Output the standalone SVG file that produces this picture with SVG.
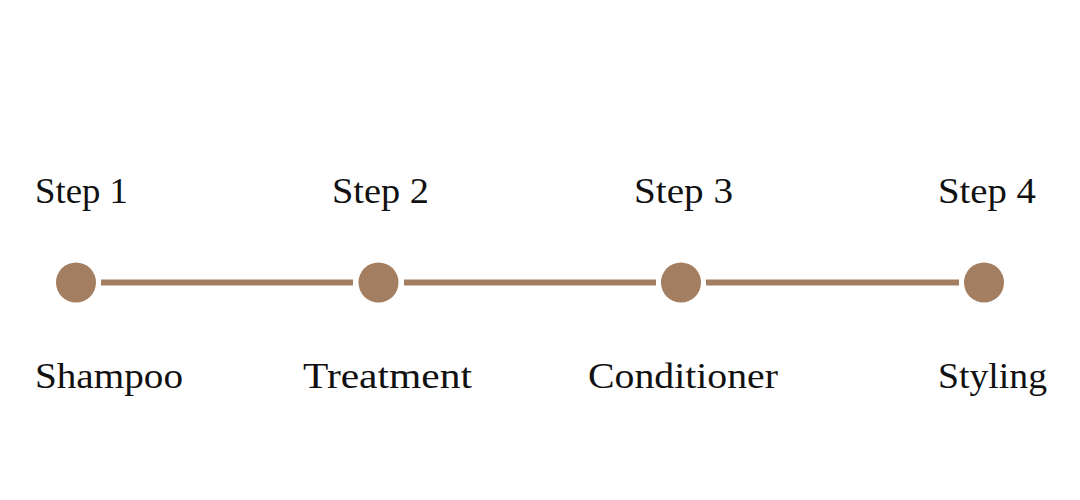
<svg xmlns="http://www.w3.org/2000/svg" width="1080" height="500" viewBox="0 0 1080 500">
  <style>
    .lbl { font-family: "Liberation Serif", "DejaVu Serif", serif; font-size: 36px; fill: #111111; }
    .dot { fill: #A37E60; }
    .conn { stroke: #A37E60; stroke-width: 6; fill: none; }
  </style>
  <rect width="1080" height="500" fill="#ffffff"/>
  <g id="connectors">
    <line class="conn" x1="101" y1="282.5" x2="353" y2="282.5"/>
    <line class="conn" x1="404" y1="282.5" x2="656" y2="282.5"/>
    <line class="conn" x1="706" y1="282.5" x2="959" y2="282.5"/>
  </g>
  <g id="step1">
    <text class="lbl" x="35" y="203" textLength="93" lengthAdjust="spacingAndGlyphs">Step 1</text>
    <circle class="dot" cx="76" cy="282.5" r="20"/>
    <text class="lbl" x="35" y="388" textLength="148" lengthAdjust="spacingAndGlyphs">Shampoo</text>
  </g>
  <g id="step2">
    <text class="lbl" x="332" y="203" textLength="97" lengthAdjust="spacingAndGlyphs">Step 2</text>
    <circle class="dot" cx="378.5" cy="282.5" r="20"/>
    <text class="lbl" x="303" y="388" textLength="169" lengthAdjust="spacingAndGlyphs">Treatment</text>
  </g>
  <g id="step3">
    <text class="lbl" x="634" y="203" textLength="99" lengthAdjust="spacingAndGlyphs">Step 3</text>
    <circle class="dot" cx="681" cy="282.5" r="20"/>
    <text class="lbl" x="588" y="388" textLength="190" lengthAdjust="spacingAndGlyphs">Conditioner</text>
  </g>
  <g id="step4">
    <text class="lbl" x="938" y="203" textLength="98" lengthAdjust="spacingAndGlyphs">Step 4</text>
    <circle class="dot" cx="984" cy="282.5" r="20"/>
    <text class="lbl" x="938" y="388" textLength="109" lengthAdjust="spacingAndGlyphs">Styling</text>
  </g>
</svg>
